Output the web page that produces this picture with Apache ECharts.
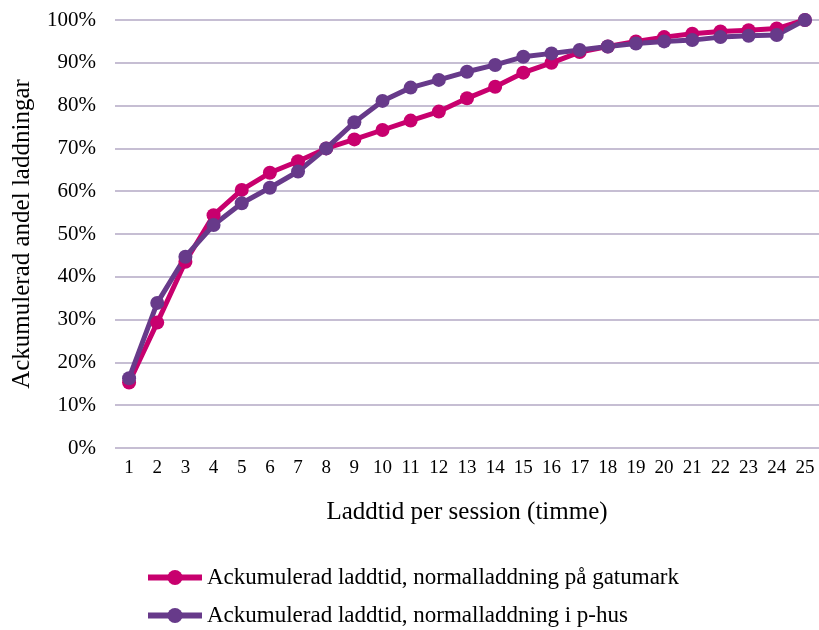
<!DOCTYPE html>
<html><head><meta charset="utf-8">
<script src="https://cdn.jsdelivr.net/npm/echarts@6/dist/echarts.min.js"></script>
<style>html,body{margin:0;padding:0;background:#fff}#c{width:819px;height:630px}</style>
</head><body><div id="c"></div>
<script>
var categories = ['1','2','3','4','5','6','7','8','9','10','11','12','13','14','15','16','17','18','19','20','21','22','23','24','25'];
var gatumark = [15.3,29.3,43.5,54.4,60.3,64.3,67.0,70.0,72.1,74.3,76.5,78.6,81.7,84.4,87.7,90.0,92.5,93.8,95.0,96.0,96.8,97.3,97.6,98.0,100];
var phus = [16.3,33.9,44.7,52.1,57.2,60.8,64.6,70.0,76.1,81.1,84.2,86.0,87.9,89.5,91.4,92.2,93.0,93.8,94.5,95.0,95.3,96.0,96.3,96.5,100];
var seriesNames = ['Ackumulerad laddtid, normalladdning på gatumark','Ackumulerad laddtid, normalladdning i p-hus'];
var font = '"Liberation Serif", "Times New Roman", serif';
var chart = echarts.init(document.getElementById('c'));
chart.setOption({
  animation: false,
  grid: {left: 115, right: -1, top: 20, bottom: 182},
  legend: {
    orient: 'vertical', left: 145, top: 566, itemGap: 15, padding: 0,
    itemWidth: 54, itemHeight: 19,
    lineStyle: {width: 6},
    textStyle: {fontFamily: font, fontSize: 23, lineHeight: 23, color: '#000'},
    data: seriesNames
  },
  xAxis: {
    type: 'category', data: categories, boundaryGap: true,
    name: 'Laddtid per session (timme)', nameLocation: 'middle', nameGap: 52,
    nameTextStyle: {fontFamily: font, fontSize: 25, color: '#000'},
    axisLine: {show: false}, axisTick: {show: false},
    axisLabel: {fontFamily: font, fontSize: 19, color: '#000', margin: 11, interval: 0}
  },
  yAxis: {
    type: 'value', min: 0, max: 100, interval: 10,
    name: 'Ackumulerad andel laddningar', nameLocation: 'middle', nameGap: 80,
    nameTextStyle: {fontFamily: font, fontSize: 25, color: '#000'},
    axisLine: {show: false}, axisTick: {show: false},
    axisLabel: {fontFamily: font, fontSize: 21, color: '#000', margin: 19, formatter: '{value}%'},
    splitLine: {lineStyle: {color: '#C6BED3', width: 2}}
  },
  series: [
    {name: seriesNames[0], type: 'line', data: gatumark, symbol: 'circle', symbolSize: 14,
     lineStyle: {color: '#C8006E', width: 5}, itemStyle: {color: '#C8006E'}},
    {name: seriesNames[1], type: 'line', data: phus, symbol: 'circle', symbolSize: 14,
     lineStyle: {color: '#673A8A', width: 5}, itemStyle: {color: '#673A8A'}}
  ]
});
</script></body></html>
